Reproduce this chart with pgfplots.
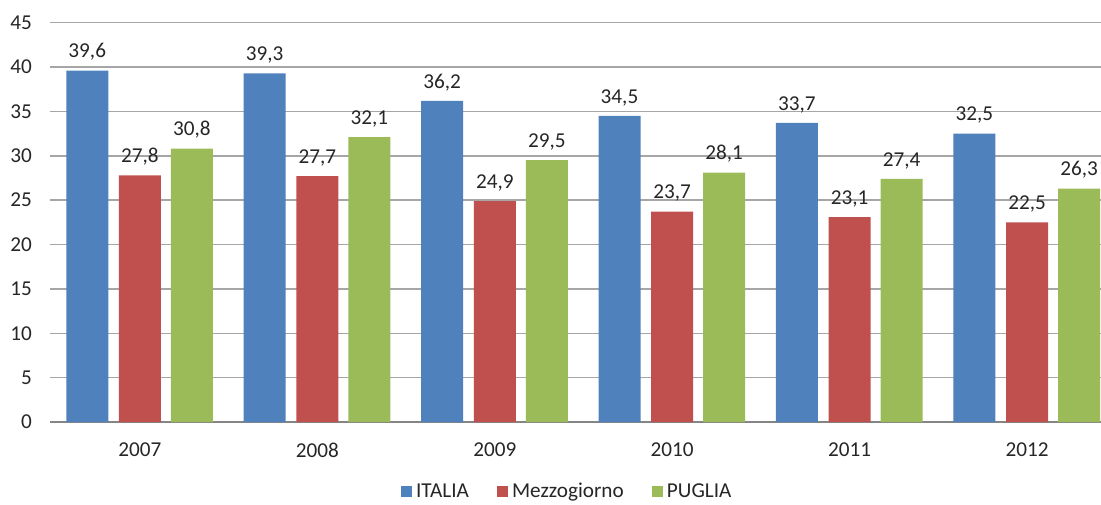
\documentclass[border=0pt]{standalone}
\usepackage{pgfplots}
\pgfplotsset{compat=1.18}
\usepackage{fontspec}
\setmainfont{Carlito}
\definecolor{cblue}{HTML}{4F81BD}
\definecolor{cred}{HTML}{C0504D}
\definecolor{cgreen}{HTML}{9BBB59}
\definecolor{cgrid}{HTML}{A6A6A6}
\definecolor{ctext}{HTML}{262626}
\newcommand{\cfont}{\fontsize{10.6pt}{12pt}\selectfont}
\begin{document}
\begin{tikzpicture}
\path[use as bounding box] (0,0) rectangle (550.5pt,252pt);
\begin{axis}[
  at={(25pt,41pt)}, anchor=south west,
  scale only axis, width=525.5pt, height=199.65pt,
  xmin=-0.507, xmax=5.417, ymin=0, ymax=45,
  ytick={0,5,...,45},
  xtick={0,1,2,3,4,5},
  xticklabels={2007,2008,2009,2010,2011,2012},
  major tick length=0pt,
  axis lines*=left,
  y axis line style={draw=none},
  x axis line style={draw=cgrid!80!black, line width=0.7pt},
  ymajorgrids, grid style={draw=cgrid, line width=0.7pt},
  /pgf/number format/assume math mode=true,
  tick label style={font=\cfont, text=ctext},
  xticklabel style={yshift=-7pt},
  yticklabel style={xshift=-5.5pt},
  ybar, bar width=21pt,
  nodes near coords,
  nodes near coords style={font=\cfont, text=ctext, anchor=south, yshift=1.5pt,
    /pgf/number format/.cd, fixed, fixed zerofill, precision=1, use comma, assume math mode=true},
  legend style={at={(0.493,-0.175)}, anchor=center, draw=none, font=\cfont, text=ctext,
    legend columns=-1, /tikz/every even column/.append style={column sep=12pt}},
  legend image code/.code={\fill[#1] (0pt,-2.8pt) rectangle (5.6pt,2.8pt);},
]
\addplot[fill=cblue, draw=none, bar shift=-26.35pt] coordinates {(0,39.6) (1,39.3) (2,36.2) (3,34.5) (4,33.7) (5,32.5)};
\addplot[fill=cred, draw=none, bar shift=0pt] coordinates {(0,27.8) (1,27.7) (2,24.9) (3,23.7) (4,23.1) (5,22.5)};
\addplot[fill=cgreen, draw=none, bar shift=26pt] coordinates {(0,30.8) (1,32.1) (2,29.5) (3,28.1) (4,27.4) (5,26.3)};
\legend{ITALIA, Mezzogiorno, PUGLIA}
\end{axis}
\end{tikzpicture}
\end{document}
